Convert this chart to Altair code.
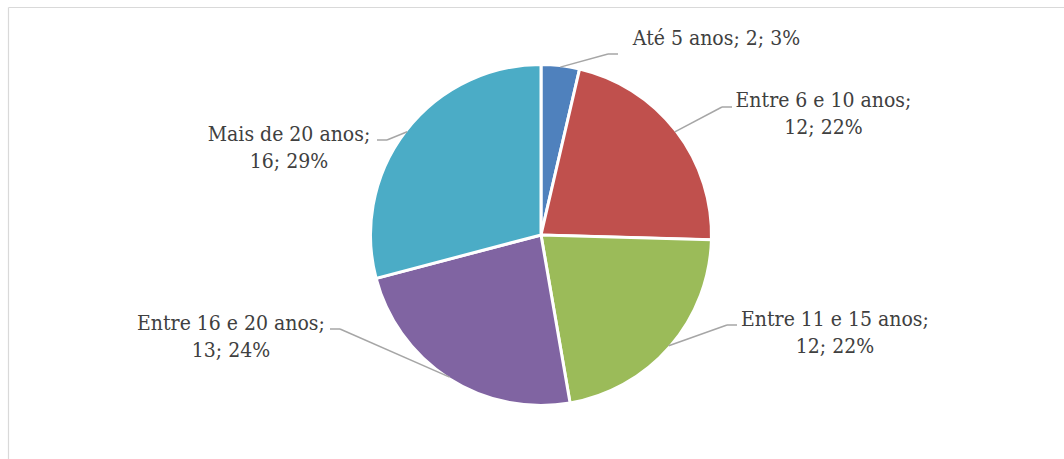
import altair as alt
import pandas as pd

# ---- data ----
categories = ["Até 5 anos", "Entre 6 e 10 anos", "Entre 11 e 15 anos",
              "Entre 16 e 20 anos", "Mais de 20 anos"]
values = [2, 12, 12, 13, 16]
percent_labels = ["3%", "22%", "22%", "24%", "29%"]
colors = ["#4F81BD", "#C0504D", "#9BBB59", "#8064A2", "#4BACC6"]

# ---- annotation layout (label placement, px offsets from the pie centre) ----
label_dx = [175.5, 282.5, 294, -310, -252]
label_dy = [-190, -128, 91, 95, -94]
elbow_dx = [67, 181, 186, -201, -154]
elbow_dy = [-181, -128, 90, 94, -95]
two_lines = [False, True, True, True, True]

W, H = 1064, 459
CX, CY, R = 541, 235, 169
FONT = "DejaVu Serif Condensed, DejaVu Serif"

labels = [
    f"{c};{chr(10) if br else ' '}{v}; {p}"
    for c, v, p, br in zip(categories, values, percent_labels, two_lines)
]

df = pd.DataFrame({
    "category": categories,
    "value": values,
    "idx": list(range(len(categories))),
    "label": labels,
    "label_dx": label_dx,
    "label_dy": label_dy,
    "elbow_dx": elbow_dx,
    "elbow_dy": elbow_dy,
})

base = alt.Chart(df)

pie = base.mark_arc(outerRadius=R + 1.5, stroke="white", strokeWidth=3).encode(
    theta=alt.Theta("value:Q", stack=True),
    order=alt.Order("idx:Q"),
    color=alt.Color("category:N",
                    scale=alt.Scale(domain=categories, range=colors),
                    legend=None),
    x=alt.value(CX),
    y=alt.value(CY),
)

geo = (
    base.transform_joinaggregate(total="sum(value)")
    .transform_window(cum="sum(value)", sort=[alt.SortField("idx")], frame=[None, 0])
    .transform_calculate(
        mid="(datum.cum - datum.value/2) / datum.total * 2 * PI",
        sx=f"{CX} + {R} * sin(datum.mid)",
        sy=f"{CY} - {R} * cos(datum.mid)",
        ex=f"{CX} + datum.elbow_dx",
        ey=f"{CY} + datum.elbow_dy",
        tx=f"{CX} + datum.elbow_dx + (datum.elbow_dx > 0 ? 10 : -10)",
        lx=f"{CX} + datum.label_dx",
        ly=f"{CY} + datum.label_dy",
    )
)

lead_color = "#A6A6A6"
rule1 = geo.mark_rule(color=lead_color, strokeWidth=1.5).encode(
    x=alt.X("sx:Q", scale=None, axis=None),
    y=alt.Y("sy:Q", scale=None, axis=None),
    x2="ex:Q",
    y2="ey:Q",
)
rule2 = geo.mark_rule(color=lead_color, strokeWidth=1.5).encode(
    x=alt.X("ex:Q", scale=None, axis=None),
    y=alt.Y("ey:Q", scale=None, axis=None),
    x2="tx:Q",
    y2="ey:Q",
)

text = geo.mark_text(
    align="center", baseline="alphabetic", font=FONT,
    fontSize=21, color="#404040", lineBreak="\n", lineHeight=26.5,
).encode(
    x=alt.X("lx:Q", scale=None, axis=None),
    y=alt.Y("ly:Q", scale=None, axis=None),
    text="label:N",
)

frame_df = pd.DataFrame({"k": [0]})
border_top = alt.Chart(frame_df).mark_rule(color="#D9D9D9", strokeWidth=1.2).encode(
    x=alt.value(8.5), x2=alt.value(W), y=alt.value(7.5), y2=alt.value(7.5)
)
border_left = alt.Chart(frame_df).mark_rule(color="#D9D9D9", strokeWidth=1.2).encode(
    x=alt.value(8.5), x2=alt.value(8.5), y=alt.value(7.5), y2=alt.value(H)
)

chart = (
    alt.layer(border_top, border_left, pie, rule1, rule2, text)
    .properties(width=W, height=H, padding=0, background="white",
                autosize=alt.AutoSizeParams(type="none"))
    .configure_view(stroke=None)
)

chart.save("out.html", embed_options={"renderer": "svg", "actions": False})
